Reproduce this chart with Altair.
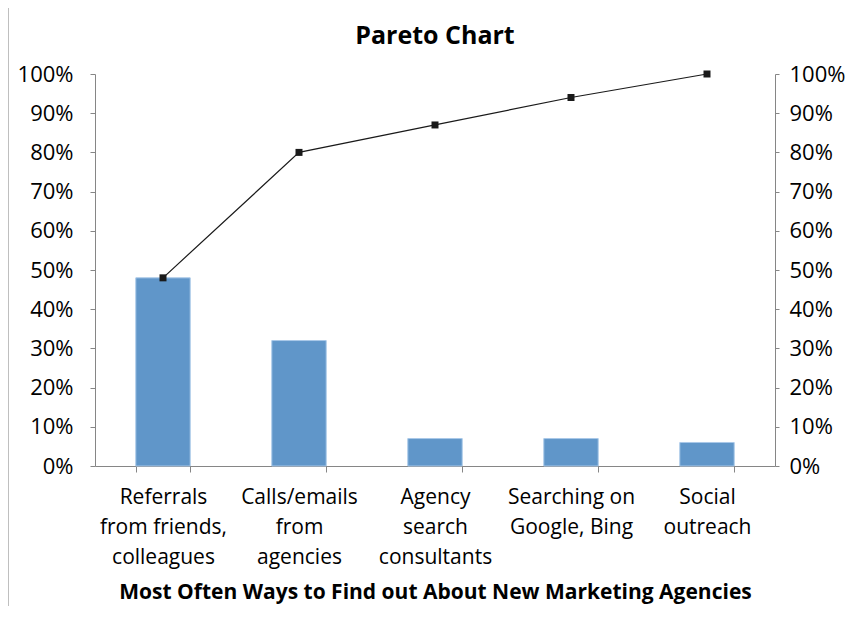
import altair as alt
import pandas as pd

categories = [
    "Referrals\nfrom friends,\ncolleagues",
    "Calls/emails\nfrom\nagencies",
    "Agency\nsearch\nconsultants",
    "Searching on\nGoogle, Bing",
    "Social\noutreach",
]
share = [48, 32, 7, 7, 6]
cumulative = [48, 80, 87, 94, 100]
y_ticks = [0, 10, 20, 30, 40, 50, 60, 70, 80, 90, 100]
chart_title = "Pareto Chart"

df = pd.DataFrame({"category": categories, "share": share, "cumulative": cumulative})

FONT = "Open Sans"
AXIS_GRAY = "#868686"

x = alt.X(
    "category:N",
    sort=categories,
    title="Most Often Ways to Find out About New Marketing Agencies",
    scale=alt.Scale(paddingInner=0.6, paddingOuter=0.3),
    axis=alt.Axis(
        labelAngle=0,
        labelExpr="split(datum.label, '\\n')",
        tickBand="extent",
        labelFontSize=21,
        labelLineHeight=30,
        labelPadding=14,
        tickSize=6,
        titleFontSize=21,
        titleFontWeight="bold",
        titlePadding=14,
    ),
)

bars = alt.Chart(df).mark_bar(color="#6096C9", stroke="#A9C8E8", strokeWidth=1).encode(
    x=x,
    y=alt.Y(
        "share:Q",
        scale=alt.Scale(domain=[0, 100]),
        title=None,
        axis=alt.Axis(values=y_ticks, labelExpr="datum.value + '%'", tickSize=5,
                      labelPadding=17, labelFontSize=22, orient="left"),
    ),
)

right_y = alt.Y(
    "cumulative:Q",
    scale=alt.Scale(domain=[0, 100]),
    title=None,
    axis=alt.Axis(values=y_ticks, labelExpr="datum.value + '%'", tickSize=4,
                  labelPadding=10, labelFontSize=22, orient="right"),
)

line = alt.Chart(df).mark_line(color="#1a1a1a", strokeWidth=1.2).encode(x=x, y=right_y)
points = alt.Chart(df).mark_square(color="#1a1a1a", size=49, opacity=1).encode(x=x, y=right_y)

deco = pd.DataFrame({"t": [chart_title]})

# light frame line on the left edge of the chart area (decoration)
frame = alt.Chart(deco).mark_rule(color="#BFBFBF", strokeWidth=1).encode(
    x=alt.value(-86.5), y=alt.value(-70), y2=alt.value(540)
)

title_text = alt.Chart(deco).mark_text(
    font=FONT, fontSize=25, fontWeight="bold", color="black", baseline="middle", align="center"
).encode(text="t:N", x=alt.value(340), y=alt.value(-38))

chart = (
    alt.layer(bars, line + points, frame, title_text)
    .resolve_scale(y="independent")
    .properties(
        width=680,
        height=392,
        autosize=alt.AutoSizeParams(type="none"),
        padding={"left": 87, "top": 66, "right": 77, "bottom": 140},
    )
    .configure_view(stroke=None)
    .configure_axis(
        grid=False,
        domainColor=AXIS_GRAY,
        tickColor=AXIS_GRAY,
        labelColor="black",
        titleColor="black",
        labelFont=FONT,
        titleFont=FONT,
    )
)

chart.save("out.html", embed_options={"renderer": "svg", "actions": False})
